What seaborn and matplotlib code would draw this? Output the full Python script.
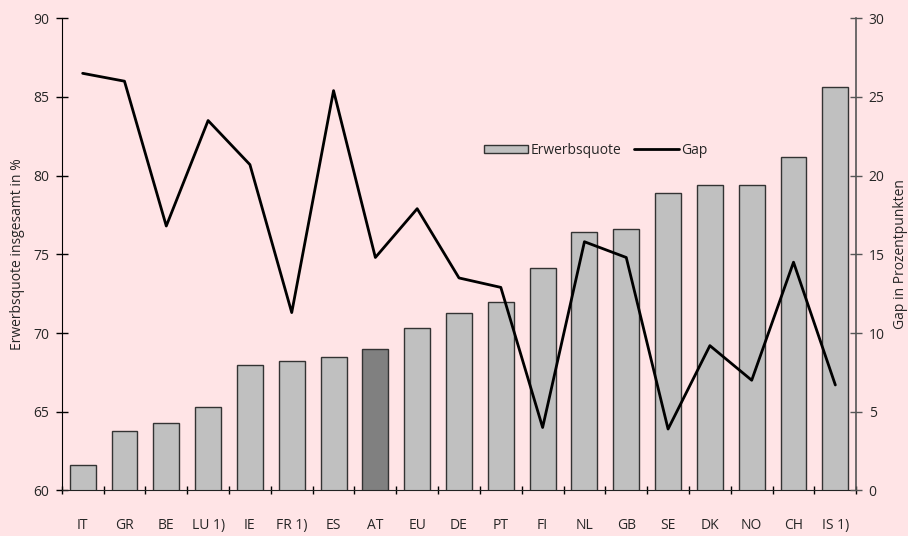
import numpy as np
import matplotlib
matplotlib.use("Agg")
import matplotlib.pyplot as plt
from matplotlib.patches import Patch
from matplotlib.lines import Line2D
import seaborn as sns

# data
countries = ["IT", "GR", "BE", "LU 1)", "IE", "FR 1)", "ES", "AT", "EU", "DE",
             "PT", "FI", "NL", "GB", "SE", "DK", "NO", "CH", "IS 1)"]
erwerbsquote = [61.6, 63.8, 64.3, 65.3, 68.0, 68.2, 68.5, 69.0, 70.3, 71.3,
                72.0, 74.1, 76.4, 76.6, 78.9, 79.4, 79.4, 81.2, 85.6]
gap = [26.5, 26.0, 16.8, 23.5, 20.7, 11.3, 25.4, 14.8, 17.9, 13.5,
       12.9, 4.0, 15.8, 14.8, 3.9, 9.2, 7.0, 14.5, 6.7]
left_ticks = [60, 65, 70, 75, 80, 85, 90]
right_ticks = [0, 5, 10, 15, 20, 25, 30]

bg = "#FFE4E6"
bar_col = "#C0C0C0"
highlight = "#808080"

sns.set_style("ticks")
plt.rcParams["font.family"] = ["Open Sans", "DejaVu Sans"]
plt.rcParams["font.size"] = 10

fig, ax = plt.subplots(figsize=(9.08, 5.36), dpi=100)
fig.patch.set_facecolor(bg)
ax.set_facecolor(bg)
fig.subplots_adjust(left=0.068, right=0.943, top=0.966, bottom=0.085)

palette = [highlight if c == "AT" else bar_col for c in countries]
sns.barplot(x=countries, y=erwerbsquote, hue=countries, palette=palette,
            legend=False, width=0.62, edgecolor="#333333", linewidth=1.0,
            saturation=1, ax=ax)
ax.set_ylim(60, 90)
ax.set_yticks(left_ticks)
ax.set_xlim(-0.5, len(countries) - 0.5)
ax.set_ylabel("Erwerbsquote insgesamt in %", fontsize=10, labelpad=6)
ax.set_xlabel("")

# category ticks between bars
ax.set_xticks(np.arange(len(countries)))
ax.set_xticklabels(countries)
ax.set_xticks(np.arange(-0.5, len(countries)), minor=True)
ax.tick_params(axis="x", which="major", length=0, pad=20, labelsize=10)
ax.tick_params(axis="x", which="minor", length=6, direction="inout",
               width=1, color="black")
ax.tick_params(axis="y", length=8, direction="inout", width=1,
               color="black", labelsize=10, pad=5)

ax2 = ax.twinx()
sns.lineplot(x=np.arange(len(countries)), y=gap, color="black",
             linewidth=2, ax=ax2)
ax2.set_ylim(0, 30)
ax2.set_yticks(right_ticks)
ax2.set_ylabel("Gap in Prozentpunkten", fontsize=10, labelpad=6)
ax2.tick_params(axis="y", length=8, direction="inout", width=1,
                color="#555555", labelsize=10, pad=5)

for a in (ax, ax2):
    a.spines["top"].set_visible(False)
ax.spines["left"].set_color("black")
ax.spines["bottom"].set_color("#222222")
ax.spines["right"].set_visible(False)
ax2.spines["left"].set_visible(False)
ax2.spines["bottom"].set_visible(False)
ax2.spines["right"].set_color("#555555")
ax2.spines["right"].set_linewidth(1.2)

handles = [Patch(facecolor=bar_col, edgecolor="#333333", linewidth=1.0),
           Line2D([0], [0], color="black", linewidth=2)]
ax2.legend(handles, ["Erwerbsquote", "Gap"], ncol=2, frameon=False,
           loc="center", bbox_to_anchor=(0.672, 0.72), fontsize=10,
           handlelength=3.2, handleheight=0.6, handletextpad=0.2,
           columnspacing=0.9)

fig.savefig("out.png", dpi=100, facecolor=bg)
